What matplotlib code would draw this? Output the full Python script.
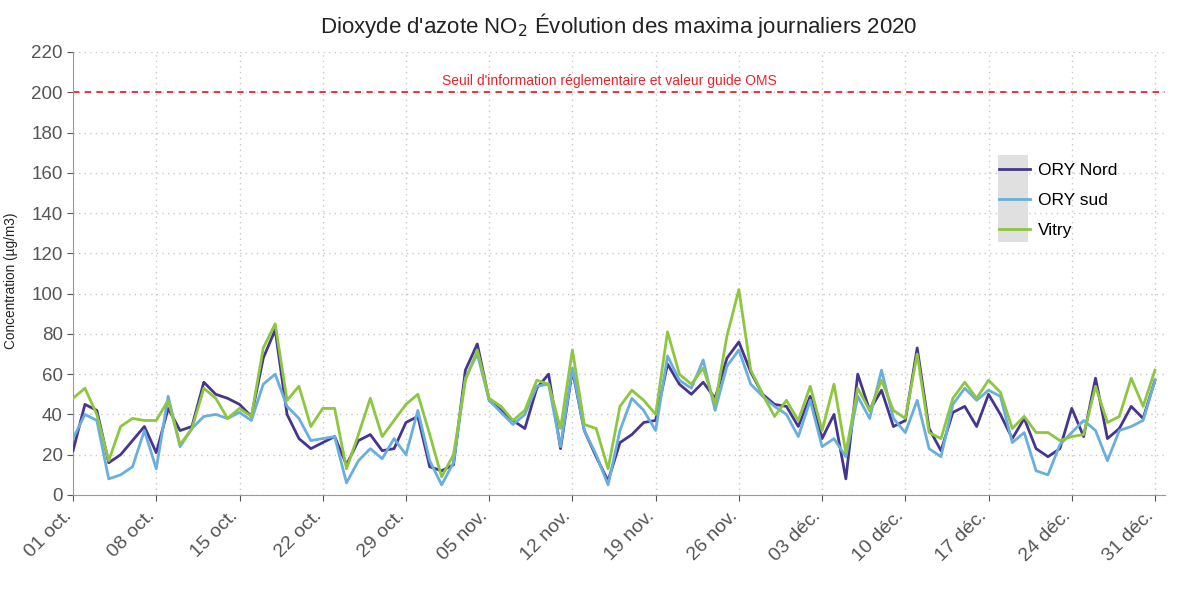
import numpy as np
import matplotlib
matplotlib.use('Agg')
import matplotlib.pyplot as plt
import matplotlib.transforms as mtransforms
from matplotlib.patches import Rectangle
from matplotlib.lines import Line2D

plt.rcParams['font.family'] = ['Liberation Sans', 'DejaVu Sans']

# maxima journaliers, du 01 oct. au 31 déc. 2020 (92 jours)
ory_nord = [22, 45, 42, 16, 20, 27, 34, 21, 43, 32, 34, 56, 50, 48, 45, 39,
            68, 82, 40, 28, 23, 26, 29, 15, 27, 30, 22, 23, 36, 39, 14, 12,
            15, 62, 75, 47, 42, 37, 33, 53, 60, 23, 62, 32, 19, 7, 26, 30,
            36, 37, 65, 55, 50, 56, 48, 68, 76, 61, 50, 45, 44, 34, 49, 28,
            40, 8, 60, 42, 52, 34, 37, 73, 33, 22, 41, 44, 34, 50, 40, 28,
            38, 23, 19, 23, 43, 29, 58, 28, 33, 44, 38, 57]
ory_sud = [28, 40, 37, 8, 10, 14, 32, 13, 49, 24, 33, 39, 40, 38, 41, 37,
           55, 60, 44, 38, 27, 28, 29, 6, 17, 23, 18, 28, 20, 42, 17, 5,
           16, 58, 70, 47, 41, 35, 40, 54, 55, 24, 63, 32, 20, 5, 32, 48,
           42, 32, 69, 57, 53, 67, 42, 64, 72, 55, 49, 44, 40, 29, 47, 24,
           28, 19, 49, 38, 62, 38, 31, 47, 23, 19, 45, 53, 47, 52, 49, 26,
           31, 12, 10, 25, 31, 37, 32, 17, 32, 34, 37, 57]
vitry = [48, 53, 40, 17, 34, 38, 37, 37, 47, 25, 33, 53, 48, 38, 43, 39,
         73, 85, 47, 54, 34, 43, 43, 13, 30, 48, 29, 37, 45, 50, 30, 9,
         20, 57, 72, 48, 44, 37, 42, 57, 55, 33, 72, 35, 33, 13, 44, 52,
         47, 40, 81, 60, 55, 63, 45, 79, 102, 62, 50, 39, 47, 37, 54, 32,
         55, 21, 53, 42, 57, 42, 38, 70, 31, 28, 48, 56, 48, 57, 51, 33,
         39, 31, 31, 27, 29, 30, 54, 36, 39, 58, 44, 62]

tick_labels = ['01 oct.', '08 oct.', '15 oct.', '22 oct.', '29 oct.',
               '05 nov.', '12 nov.', '19 nov.', '26 nov.', '03 déc.',
               '10 déc.', '17 déc.', '24 déc.', '31 déc.']
series_names = ['ORY Nord', 'ORY sud', 'Vitry']
colors = ['#46358f', '#6aaede', '#8dc63f']
seuil = 200

days = np.arange(len(ory_nord))

fig = plt.figure(figsize=(11.82, 5.92), dpi=100)
ax = fig.add_axes([0.0618, 0.1639, 0.9238, 0.7483])

for values, name, color in zip([ory_nord, ory_sud, vitry], series_names, colors):
    ax.plot(days, values, color=color, lw=2.0, label=name, zorder=3)

ax.axhline(seuil, color='#e3262e', lw=1.3, ls=(0, (3.5, 3)), zorder=2)
ax.text(45.1, seuil + 2.2, "Seuil d'information réglementaire et valeur guide OMS",
        color='#e3262e', fontsize=10, ha='center', va='bottom')

ax.set_xlim(0, 91.84)
ax.set_ylim(0, 220)
ax.set_yticks(np.arange(0, 221, 20))
ax.set_xticks(np.arange(0, 92, 7))

ax.grid(True, color='#c8c8c8', ls=(0, (1, 3)), lw=1.0)
ax.set_axisbelow(True)
for s in ['top', 'right']:
    ax.spines[s].set_visible(False)
for s in ['left', 'bottom']:
    ax.spines[s].set_color('#9a9a9a')
ax.tick_params(colors='#555555', labelsize=13.5, length=4, direction='out')
ax.tick_params(axis='x', labelsize=14, colors='#555555', pad=5)

ax.set_xticklabels(tick_labels, rotation=45, ha='right', rotation_mode='anchor')
# décalage des étiquettes vers la gauche (après tick_params, sinon remis à zéro)
shift = mtransforms.ScaledTranslation(-10 / 100, 0, fig.dpi_scale_trans)
for lab in ax.get_xticklabels():
    lab.set_transform(lab.get_transform() + shift)

ax.set_ylabel('Concentration (µg/m3)', fontsize=9.8, color='#222222')
ax.yaxis.set_label_coords(-0.050, 0.483)
ax.set_title("Dioxyde d'azote NO$_2$ Évolution des maxima journaliers 2020",
             fontsize=16, color='#222222', pad=14)

# légende : fond gris derrière les clés
fig.patches.append(Rectangle((998 / 1182, 1 - 242 / 592), 30 / 1182, 87 / 592,
                             transform=fig.transFigure, facecolor='#e0e0e0',
                             edgecolor='none', zorder=1))
handles = [Line2D([], [], color=c, lw=2.0) for c in colors]
leg = fig.legend(handles, series_names, loc='upper left',
                 bbox_to_anchor=(992 / 1182, 1 - 156 / 592), frameon=False,
                 fontsize=12.5, handlelength=1.8, handletextpad=0.45,
                 labelspacing=0.85, borderaxespad=0)

fig.savefig('out.png', dpi=100)
